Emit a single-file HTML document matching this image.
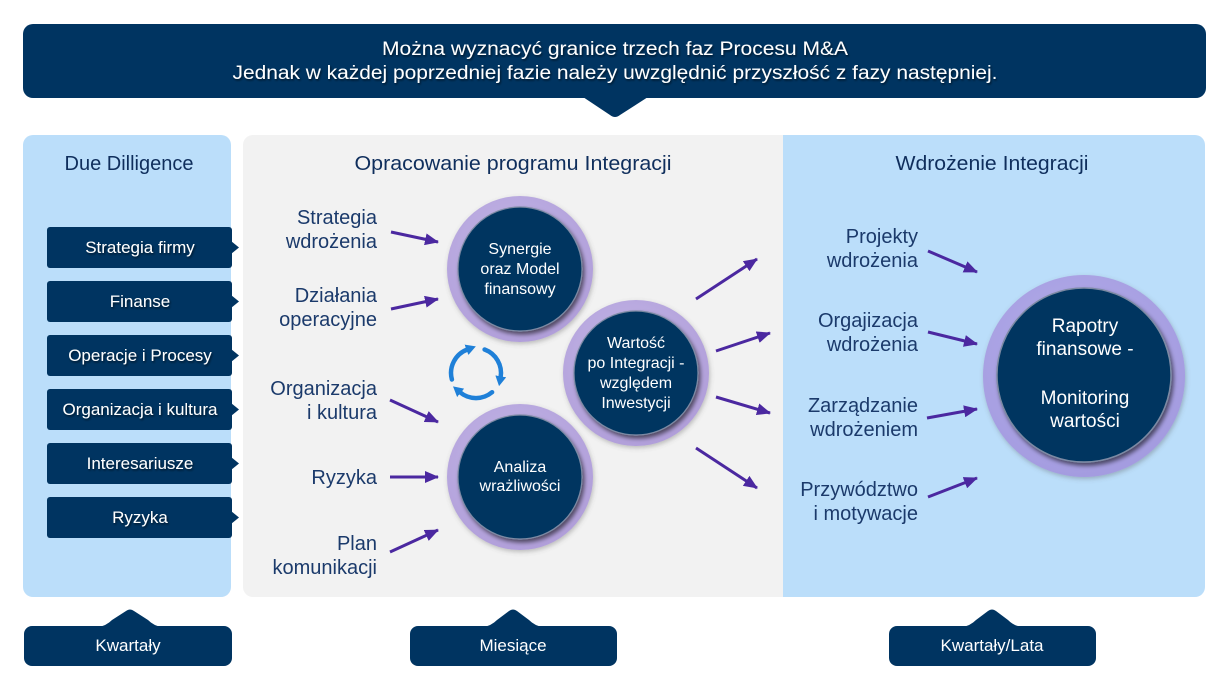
<!DOCTYPE html>
<html>
<head>
<meta charset="utf-8">
<style>
html,body{margin:0;padding:0;background:#fff;}
svg{display:block;}
text{font-family:"Liberation Sans",Arial,sans-serif;}
</style>
</head>
<body>
<svg width="1230" height="691" viewBox="0 0 1230 691" xmlns="http://www.w3.org/2000/svg">
<defs>
  <marker id="ap" markerUnits="userSpaceOnUse" markerWidth="14" markerHeight="12" viewBox="0 0 14 12" refX="13" refY="6" orient="auto">
    <path d="M0,0 L14,6 L0,12 z" fill="#4b28a0"/>
  </marker>
  <marker id="ab" markerUnits="userSpaceOnUse" markerWidth="11" markerHeight="11" viewBox="0 0 11 11" refX="1" refY="5.5" orient="auto">
    <path d="M0,0 L10,5.5 L0,11 z" fill="#1f80d8"/>
  </marker>
  <radialGradient id="ring" cx="45%" cy="40%" r="60%">
    <stop offset="0" stop-color="#c7bbe9"/>
    <stop offset="1" stop-color="#b19fda"/>
  </radialGradient>
  <radialGradient id="ring2" cx="45%" cy="40%" r="60%">
    <stop offset="0" stop-color="#b5aeea"/>
    <stop offset="1" stop-color="#a49ce0"/>
  </radialGradient>
  <filter id="sh" x="-20%" y="-20%" width="140%" height="140%">
    <feDropShadow dx="2" dy="3" stdDeviation="2" flood-color="#000" flood-opacity="0.55"/>
  </filter>
  <filter id="sh2" x="-20%" y="-20%" width="140%" height="140%">
    <feDropShadow dx="1" dy="2" stdDeviation="2.5" flood-color="#555" flood-opacity="0.35"/>
  </filter>
  <filter id="ts" x="-5%" y="-20%" width="110%" height="140%">
    <feDropShadow dx="1" dy="1.5" stdDeviation="1" flood-color="#000" flood-opacity="0.6"/>
  </filter>
</defs>

<!-- Top banner -->
<rect x="23" y="24" width="1183" height="74" rx="10" fill="#003461"/>
<path d="M583,97 L610,115 Q615,119 620,115 L648,97 z" fill="#003461"/>
<g filter="url(#ts)" fill="#ffffff" font-size="19" text-anchor="middle">
  <text x="615" y="55" textLength="466" lengthAdjust="spacingAndGlyphs">Można wyznacyć granice trzech faz Procesu M&amp;A</text>
  <text x="615" y="79" textLength="765" lengthAdjust="spacingAndGlyphs">Jednak w każdej poprzedniej fazie należy uwzględnić przyszłość z fazy następniej.</text>
</g>

<!-- Panels -->
<rect x="23" y="135" width="208" height="462" rx="10" fill="#bbdefa"/>
<rect x="243" y="135" width="560" height="462" rx="10" fill="#f2f2f2"/>
<rect x="783" y="135" width="422" height="462" rx="10" fill="#bbdefa"/>
<rect x="783" y="135" width="20" height="462" fill="#bbdefa"/>

<!-- Headers -->
<g fill="#0f2e5c" font-size="20" text-anchor="middle">
  <text x="129" y="170">Due Dilligence</text>
  <text x="513" y="170" textLength="317" lengthAdjust="spacingAndGlyphs">Opracowanie programu Integracji</text>
  <text x="992" y="170" textLength="193" lengthAdjust="spacingAndGlyphs">Wdrożenie Integracji</text>
</g>

<!-- Left boxes -->
<g fill="#003461">
  <rect x="47" y="227" width="185" height="41" rx="3"/><path d="M231,241 L239,247.5 L231,254 z"/>
  <rect x="47" y="281" width="185" height="41" rx="3"/><path d="M231,295 L239,301.5 L231,308 z"/>
  <rect x="47" y="335" width="185" height="41" rx="3"/><path d="M231,349 L239,355.5 L231,362 z"/>
  <rect x="47" y="389" width="185" height="41" rx="3"/><path d="M231,403 L239,409.5 L231,416 z"/>
  <rect x="47" y="443" width="185" height="41" rx="3"/><path d="M231,457 L239,463.5 L231,470 z"/>
  <rect x="47" y="497" width="185" height="41" rx="3"/><path d="M231,511 L239,517.5 L231,524 z"/>
</g>
<g filter="url(#ts)" fill="#ffffff" font-size="17" text-anchor="middle">
  <text x="140" y="253">Strategia firmy</text>
  <text x="140" y="307">Finanse</text>
  <text x="140" y="361">Operacje i Procesy</text>
  <text x="140" y="415">Organizacja i kultura</text>
  <text x="140" y="469">Interesariusze</text>
  <text x="140" y="523">Ryzyka</text>
</g>

<!-- Middle labels -->
<g fill="#1b3a6b" font-size="20" text-anchor="end">
  <text x="377" y="224">Strategia</text>
  <text x="377" y="248">wdrożenia</text>
  <text x="377" y="302">Działania</text>
  <text x="377" y="326">operacyjne</text>
  <text x="377" y="395">Organizacja</text>
  <text x="377" y="419">i kultura</text>
  <text x="377" y="484">Ryzyka</text>
  <text x="377" y="550">Plan</text>
  <text x="377" y="574">komunikacji</text>
</g>

<!-- Purple arrows -->
<g stroke="#4b28a0" stroke-width="3" fill="none" marker-end="url(#ap)">
  <line x1="391" y1="232" x2="438" y2="242"/>
  <line x1="391" y1="309" x2="438" y2="299"/>
  <line x1="390" y1="400" x2="438" y2="422"/>
  <line x1="390" y1="477" x2="438" y2="477"/>
  <line x1="390" y1="552" x2="438" y2="530"/>

  <line x1="696" y1="299" x2="757" y2="259"/>
  <line x1="716" y1="351" x2="770" y2="333"/>
  <line x1="716" y1="397" x2="770" y2="413"/>
  <line x1="696" y1="448" x2="757" y2="488"/>

  <line x1="928" y1="251" x2="977" y2="272"/>
  <line x1="928" y1="332" x2="977" y2="344"/>
  <line x1="927" y1="418" x2="977" y2="409"/>
  <line x1="928" y1="497" x2="977" y2="478"/>
</g>

<!-- Circles -->
<g>
  <circle cx="520" cy="269" r="73" fill="url(#ring)" filter="url(#sh2)"/>
  <circle cx="520" cy="269" r="62" fill="#003461" stroke="#7b8aa3" stroke-width="1.2" filter="url(#sh)"/>

  <circle cx="520" cy="477" r="73" fill="url(#ring)" filter="url(#sh2)"/>
  <circle cx="520" cy="477" r="62" fill="#003461" stroke="#7b8aa3" stroke-width="1.2" filter="url(#sh)"/>

  <circle cx="636" cy="373" r="73" fill="url(#ring)" filter="url(#sh2)"/>
  <circle cx="636" cy="373" r="62" fill="#003461" stroke="#7b8aa3" stroke-width="1.2" filter="url(#sh)"/>

  <circle cx="1084" cy="376" r="101" fill="url(#ring2)" filter="url(#sh2)"/>
  <circle cx="1084" cy="375" r="87" fill="#003461" stroke="#7b8aa3" stroke-width="1.5" filter="url(#sh)"/>
</g>

<!-- Circle texts -->
<g fill="#ffffff" font-size="16" text-anchor="middle">
  <text x="520" y="254">Synergie</text>
  <text x="520" y="274">oraz Model</text>
  <text x="520" y="294">finansowy</text>

  <text x="520" y="472">Analiza</text>
  <text x="520" y="491">wrażliwości</text>

  <text x="636" y="348">Wartość</text>
  <text x="636" y="368">po Integracji -</text>
  <text x="636" y="388">względem</text>
  <text x="636" y="408">Inwestycji</text>
</g>
<g fill="#ffffff" font-size="19" text-anchor="middle">
  <text x="1085" y="332">Rapotry</text>
  <text x="1085" y="355">finansowe -</text>
  <text x="1085" y="404">Monitoring</text>
  <text x="1085" y="427">wartości</text>
</g>

<!-- Cycle icon -->
<g stroke="#1f80d8" stroke-width="4.5" fill="none" stroke-linecap="round">
  <path d="M451.9,379.5 A25,25 0 0 1 467.4,349.5" marker-end="url(#ab)"/>
  <path d="M484.6,349.5 A25,25 0 0 1 500.6,377.3" marker-end="url(#ab)"/>
  <path d="M492.1,392.2 A25,25 0 0 1 459.9,392.2" marker-end="url(#ab)"/>
</g>

<!-- Right labels -->
<g fill="#1b3a6b" font-size="20" text-anchor="end">
  <text x="918" y="243">Projekty</text>
  <text x="918" y="267">wdrożenia</text>
  <text x="918" y="327">Orgajizacja</text>
  <text x="918" y="351">wdrożenia</text>
  <text x="918" y="412">Zarządzanie</text>
  <text x="918" y="436">wdrożeniem</text>
  <text x="918" y="496">Przywództwo</text>
  <text x="918" y="520">i motywacje</text>
</g>

<!-- Bottom callouts -->
<g fill="#003461">
  <rect x="24" y="626" width="208" height="40" rx="8"/>
  <path d="M98,627 Q106,626 112,620 L126,611 Q130,608 134,611 L148,620 Q154,626 162,627 z"/>
  <rect x="410" y="626" width="207" height="40" rx="8"/>
  <path d="M483,627 Q491,626 497,620 L509,611 Q513,608 517,611 L529,620 Q535,626 543,627 z"/>
  <rect x="889" y="626" width="207" height="40" rx="8"/>
  <path d="M962,627 Q970,626 976,620 L988,611 Q992,608 996,611 L1008,620 Q1014,626 1022,627 z"/>
</g>
<g fill="#ffffff" font-size="17" text-anchor="middle">
  <text x="128" y="651">Kwartały</text>
  <text x="513" y="651">Miesiące</text>
  <text x="992" y="651">Kwartały/Lata</text>
</g>
</svg>
</body>
</html>
